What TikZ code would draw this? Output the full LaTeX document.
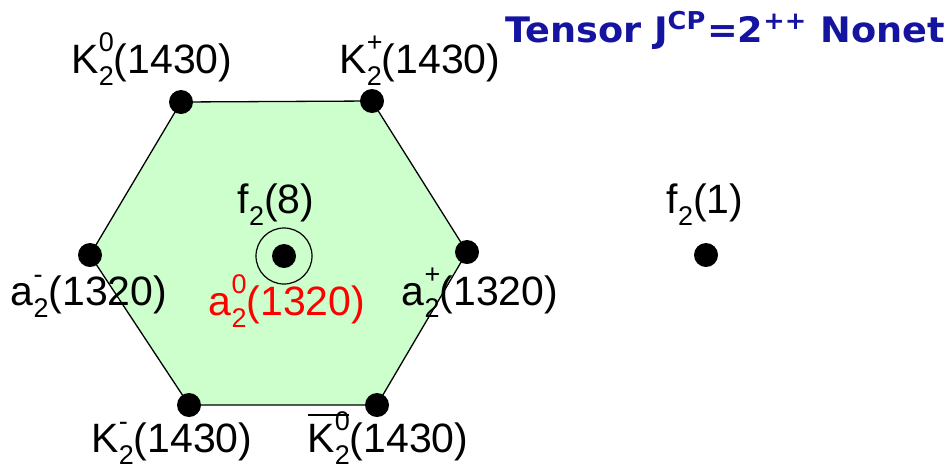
\documentclass[tikz,border=0pt]{standalone}
\usepackage{fontspec}
\setmainfont{Liberation Sans}
\newfontfamily\titlefont{DejaVu Sans}
\definecolor{hexgreen}{RGB}{204,255,204}
\definecolor{titleblue}{RGB}{20,20,160}
\newcommand{\ssc}[2]{\rlap{\raisebox{0.52em}{\fontsize{27pt}{27pt}\selectfont #1}}\raisebox{-0.3em}{\fontsize{27pt}{27pt}\selectfont #2}}
\begin{document}
\begin{tikzpicture}[x=1pt,y=-1pt,
  dot/.style={circle,fill=black,inner sep=0pt,minimum size=24pt},
  lbl/.style={inner sep=0pt,anchor=base,font=\fontsize{41pt}{41pt}\selectfont},
  edge/.style={draw=black,line width=1.3pt}]
\useasboundingbox (0,0) rectangle (952,472);
\coordinate (v1) at (181,102);
\coordinate (v2) at (372,101);
\coordinate (v3) at (467,252);
\coordinate (v4) at (377,405);
\coordinate (v5) at (189,405);
\coordinate (v6) at (90,255);
\fill[hexgreen] (v1)--(v2)--(v3)--(v4)--(v5)--(v6)--cycle;
\draw[edge] (v1)--(v2)--(v3)--(v4)--(v5)--(v6)--cycle;
\foreach \v in {v1,v2,v3,v4,v5,v6} \node[dot] (d\v) at (\v) {};
\node[dot] (c) at (284,256) {};
\node[circle,draw=black,line width=1.2pt,minimum size=56pt,inner sep=0pt] (ring) at (c) {};
\node[dot] (f1) at (706,255) {};
\node[lbl] (lK0) at (152,73) {K\ssc{0}{2}(1430)};
\node[lbl] (lKp) at (420,73) {K\ssc{+}{2}(1430)};
\node[lbl] (lf8) at (276,213) {f\ssc{}{2}(8)};
\node[lbl] (lam) at (89,305) {a\ssc{-}{2}(1320)};
\node[lbl,text=red] (la0) at (287,315) {a\ssc{0}{2}(1320)};
\node[lbl] (lap) at (480,305) {a\ssc{+}{2}(1320)};
\node[lbl] (lKm) at (172,452) {K\ssc{-}{2}(1430)};
\node[lbl] (lKb) at (388,452) {\rlap{\raisebox{0.88em}{\rule{1.02em}{1.6pt}}}K\ssc{0}{2}(1430)};
\node[lbl] (lf1) at (705,213) {f\ssc{}{2}(1)};
\node[inner sep=0pt,anchor=base west,text=titleblue] (title) at (505,42)
  {\resizebox{440pt}{31pt}{\titlefont\bfseries Tensor J\textsuperscript{CP}=2\textsuperscript{++} Nonet}};
\end{tikzpicture}
\end{document}
